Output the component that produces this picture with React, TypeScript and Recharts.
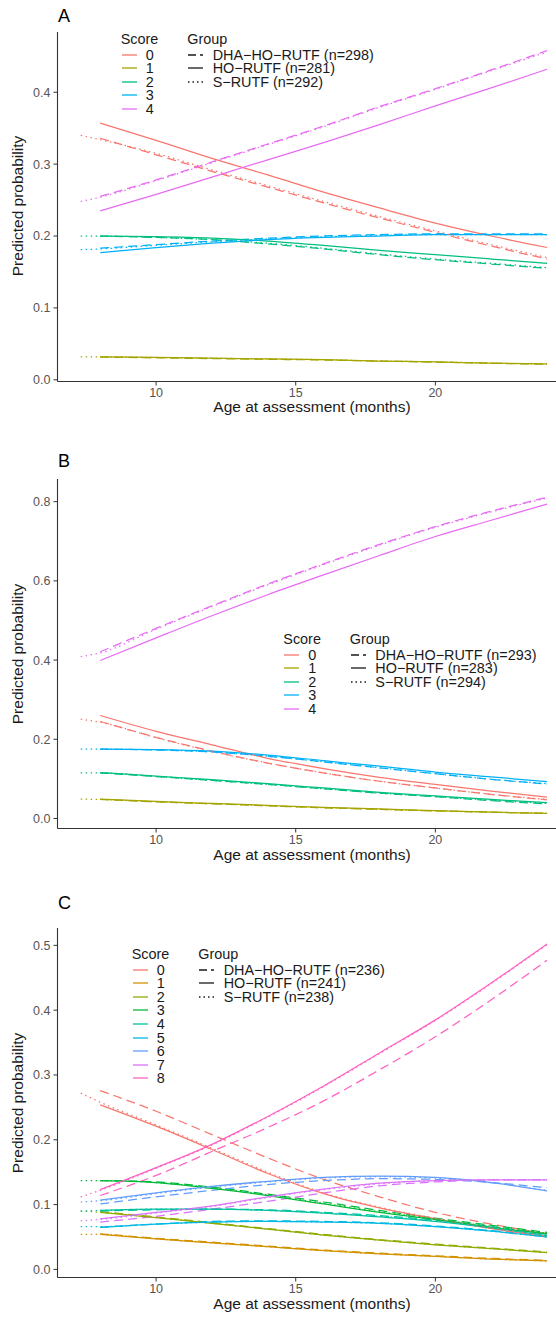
import { LineChart, Line, XAxis, YAxis } from "recharts"

// age grid (months). HO-RUTF and DHA-HO-RUTF curves start at 8, S-RUTF at 7.3
const ages = [7.3, 8, 10, 12, 14, 16, 18, 20, 22, 24]
const xTicks = [10, 15, 20]

const colors5 = ["#F8766D", "#A3A500", "#00BF7D", "#00B0F6", "#E76BF3"]
const colors9 = [
  "#F8766D", "#D39200", "#93AA00", "#00BA38", "#00C19F",
  "#00B9E3", "#619CFF", "#DB72FB", "#FF61C3",
]

// ---- panel A (rows = score 0..4) ----
const aGroupN = [298, 281, 292]
const aDha = [
  [0.336, 0.313, 0.29, 0.268, 0.246, 0.225, 0.205, 0.186, 0.168],
  [0.0315, 0.0305, 0.0295, 0.0285, 0.0275, 0.026, 0.0245, 0.023, 0.0215],
  [0.2, 0.198, 0.195, 0.189, 0.182, 0.174, 0.167, 0.161, 0.155],
  [0.183, 0.188, 0.193, 0.197, 0.2, 0.202, 0.203, 0.203, 0.203],
  [0.255, 0.278, 0.303, 0.328, 0.353, 0.38, 0.405, 0.431, 0.458],
]
const aHo = [
  [0.357, 0.333, 0.308, 0.285, 0.261, 0.239, 0.218, 0.2, 0.184],
  [0.032, 0.031, 0.03, 0.029, 0.028, 0.026, 0.025, 0.023, 0.022],
  [0.2, 0.199, 0.197, 0.193, 0.187, 0.18, 0.174, 0.168, 0.162],
  [0.177, 0.184, 0.19, 0.195, 0.198, 0.2, 0.202, 0.202, 0.202],
  [0.235, 0.258, 0.282, 0.306, 0.33, 0.355, 0.381, 0.406, 0.432],
]
const aS = [
  [0.34, 0.334, 0.315, 0.292, 0.27, 0.248, 0.227, 0.207, 0.188, 0.17],
  [0.032, 0.032, 0.031, 0.03, 0.029, 0.028, 0.026, 0.025, 0.023, 0.022],
  [0.2, 0.2, 0.198, 0.195, 0.19, 0.183, 0.175, 0.168, 0.162, 0.156],
  [0.181, 0.182, 0.187, 0.192, 0.196, 0.199, 0.201, 0.202, 0.202, 0.202],
  [0.248, 0.254, 0.277, 0.302, 0.327, 0.352, 0.379, 0.404, 0.43, 0.456],
]

// ---- panel B ----
const bGroupN = [293, 283, 294]
const bDha = [
  [0.245, 0.205, 0.17, 0.14, 0.115, 0.094, 0.077, 0.061, 0.047],
  [0.048, 0.042, 0.037, 0.032, 0.027, 0.023, 0.019, 0.016, 0.013],
  [0.115, 0.106, 0.096, 0.086, 0.075, 0.064, 0.055, 0.045, 0.037],
  [0.175, 0.173, 0.168, 0.157, 0.143, 0.128, 0.113, 0.099, 0.087],
  [0.421, 0.48, 0.537, 0.592, 0.643, 0.692, 0.737, 0.776, 0.811],
]
const bHo = [
  [0.26, 0.22, 0.186, 0.152, 0.126, 0.104, 0.086, 0.069, 0.054],
  [0.049, 0.043, 0.038, 0.033, 0.028, 0.024, 0.02, 0.016, 0.013],
  [0.116, 0.107, 0.098, 0.088, 0.077, 0.066, 0.057, 0.048, 0.04],
  [0.175, 0.174, 0.17, 0.16, 0.146, 0.132, 0.117, 0.105, 0.093],
  [0.399, 0.456, 0.512, 0.565, 0.615, 0.664, 0.712, 0.753, 0.794],
]
const bS = [
  [0.251, 0.243, 0.204, 0.169, 0.14, 0.115, 0.094, 0.077, 0.061, 0.048],
  [0.049, 0.048, 0.042, 0.037, 0.032, 0.027, 0.023, 0.019, 0.016, 0.013],
  [0.115, 0.115, 0.106, 0.096, 0.086, 0.075, 0.064, 0.055, 0.046, 0.038],
  [0.175, 0.175, 0.173, 0.168, 0.157, 0.143, 0.128, 0.113, 0.099, 0.088],
  [0.409, 0.418, 0.478, 0.535, 0.59, 0.641, 0.69, 0.735, 0.774, 0.809],
]

// ---- panel C (rows = score 0..8) ----
const cGroupN = [236, 241, 238]
const cDha = [
  [0.276, 0.244, 0.208, 0.172, 0.139, 0.112, 0.088, 0.07, 0.055],
  [0.055, 0.048, 0.042, 0.036, 0.03, 0.025, 0.021, 0.017, 0.014],
  [0.089, 0.081, 0.072, 0.063, 0.054, 0.046, 0.039, 0.033, 0.027],
  [0.137, 0.135, 0.127, 0.116, 0.104, 0.091, 0.079, 0.068, 0.057],
  [0.09, 0.092, 0.093, 0.092, 0.088, 0.083, 0.076, 0.066, 0.054],
  [0.065, 0.07, 0.074, 0.075, 0.074, 0.072, 0.067, 0.06, 0.051],
  [0.101, 0.112, 0.122, 0.131, 0.137, 0.14, 0.139, 0.134, 0.126],
  [0.073, 0.082, 0.093, 0.105, 0.118, 0.129, 0.135, 0.138, 0.138],
  [0.114, 0.145, 0.182, 0.219, 0.26, 0.308, 0.359, 0.416, 0.477],
]
const cHo = [
  [0.254, 0.221, 0.185, 0.148, 0.117, 0.095, 0.078, 0.063, 0.05],
  [0.054, 0.047, 0.041, 0.035, 0.029, 0.024, 0.02, 0.016, 0.013],
  [0.088, 0.08, 0.071, 0.062, 0.053, 0.045, 0.038, 0.032, 0.026],
  [0.137, 0.134, 0.125, 0.114, 0.101, 0.088, 0.077, 0.065, 0.055],
  [0.091, 0.093, 0.093, 0.091, 0.087, 0.081, 0.074, 0.064, 0.052],
  [0.065, 0.07, 0.073, 0.074, 0.073, 0.071, 0.066, 0.059, 0.05],
  [0.107, 0.118, 0.128, 0.136, 0.142, 0.144, 0.142, 0.134, 0.121],
  [0.078, 0.088, 0.098, 0.112, 0.124, 0.133, 0.137, 0.138, 0.138],
  [0.123, 0.157, 0.193, 0.236, 0.283, 0.334, 0.385, 0.442, 0.502],
]
const cS = [
  [0.272, 0.258, 0.223, 0.187, 0.15, 0.118, 0.096, 0.079, 0.064, 0.051],
  [0.054, 0.054, 0.047, 0.041, 0.035, 0.029, 0.024, 0.02, 0.016, 0.013],
  [0.09, 0.088, 0.08, 0.071, 0.062, 0.053, 0.045, 0.038, 0.032, 0.026],
  [0.137, 0.137, 0.134, 0.126, 0.115, 0.102, 0.089, 0.078, 0.066, 0.056],
  [0.09, 0.091, 0.093, 0.093, 0.091, 0.087, 0.082, 0.075, 0.065, 0.053],
  [0.066, 0.066, 0.07, 0.073, 0.074, 0.073, 0.071, 0.066, 0.059, 0.05],
  [0.104, 0.106, 0.117, 0.127, 0.135, 0.141, 0.143, 0.141, 0.134, 0.122],
  [0.075, 0.077, 0.087, 0.097, 0.111, 0.123, 0.132, 0.137, 0.138, 0.138],
  [0.112, 0.122, 0.156, 0.192, 0.235, 0.282, 0.333, 0.384, 0.441, 0.501],
]

const FONT = "'Liberation Sans', Arial, Helvetica, sans-serif"
const PLOT_LEFT = 57.5
const PLOT_H = 349.5
const X_DOMAIN = [6.47, 24.32]

const groups = [
  { key: "dha", name: "DHA−HO−RUTF", dash: "9 5", keyDash: "8 4" },
  { key: "ho", name: "HO−RUTF", dash: undefined, keyDash: undefined },
  { key: "s", name: "S−RUTF", dash: "1.5 3.5", keyDash: "1.5 3" },
]

function buildRows(dha: number[][], ho: number[][], s: number[][]) {
  return ages.map((age, i) => {
    const row: Record<string, number | null> = { age }
    dha.forEach((vals, k) => {
      row[`dha${k}`] = i === 0 ? null : vals[i - 1]
      row[`ho${k}`] = i === 0 ? null : ho[k][i - 1]
      row[`s${k}`] = s[k][i]
    })
    return row
  })
}

type PanelProps = {
  letter: string
  letterY: number
  plotTop: number
  domain: number[]
  yTicks: number[]
  colors: string[]
  dha: number[][]
  ho: number[][]
  s: number[][]
  groupN: number[]
  legendX: number
  legendY: number
}

function Legend({ x, y, colors, groupN }: { x: number; y: number; colors: string[]; groupN: number[] }) {
  const step = 13.6
  const first = 15.5
  const text = { position: "absolute" as const, fontSize: 14.4, lineHeight: "14px", color: "#1a1a1a", whiteSpace: "nowrap" as const }
  return (
    <>
      <div style={{ ...text, left: x, top: y - 7 }}>Score</div>
      {colors.map((c, i) => (
        <div key={c}>
          <svg style={{ position: "absolute", left: x + 1, top: y + first + i * step - 2 }} width={15} height={4}>
            <line x1={0} y1={2} x2={15} y2={2} stroke={c} strokeWidth={1.3} />
          </svg>
          <div style={{ ...text, left: x + 25, top: y + first + i * step - 7 }}>{i}</div>
        </div>
      ))}
      <div style={{ ...text, left: x + 66.5, top: y - 7 }}>Group</div>
      {groups.map((g, i) => (
        <div key={g.key}>
          <svg style={{ position: "absolute", left: x + 67.5, top: y + first + i * step - 2 }} width={15} height={4}>
            <line x1={0} y1={2} x2={15} y2={2} stroke="#1a1a1a" strokeWidth={1.3} strokeDasharray={g.keyDash} />
          </svg>
          <div style={{ ...text, left: x + 92, top: y + first + i * step - 7 }}>
            {g.name} (n={groupN[i]})
          </div>
        </div>
      ))}
    </>
  )
}

function Panel(p: PanelProps) {
  const rows = buildRows(p.dha, p.ho, p.s)
  const pad = 12
  const chartTop = p.plotTop - pad
  const plotBottom = p.plotTop + PLOT_H
  return (
    <>
      <div style={{ position: "absolute", left: 58, top: p.letterY - 9, fontSize: 18, lineHeight: "18px", color: "#000" }}>
        {p.letter}
      </div>
      <div style={{ position: "absolute", left: 0, top: chartTop }}>
        <LineChart
          width={556}
          height={pad + PLOT_H + 34}
          data={rows}
          margin={{ top: pad, right: 0, bottom: 0, left: 0 }}
        >
          <XAxis
            dataKey="age"
            type="number"
            domain={X_DOMAIN}
            allowDataOverflow
            ticks={xTicks}
            height={34}
            tickSize={4}
            tickMargin={3}
            stroke="#333"
            tick={{ fill: "#555", fontSize: 12.5, fontFamily: FONT }}
            axisLine={{ stroke: "#333", strokeWidth: 1.1 }}
            tickLine={{ stroke: "#333" }}
          />
          <YAxis
            type="number"
            domain={p.domain}
            allowDataOverflow
            ticks={p.yTicks}
            width={PLOT_LEFT}
            tickSize={4}
            tickMargin={3}
            tickFormatter={v => Number(v).toFixed(1)}
            tick={{ fill: "#555", fontSize: 12.5, fontFamily: FONT }}
            axisLine={{ stroke: "#333", strokeWidth: 1.1 }}
            tickLine={{ stroke: "#333" }}
          />
          {groups.map(g =>
            p.colors.map((c, k) => (
              <Line
                key={`${g.key}${k}`}
                type="monotone"
                dataKey={`${g.key}${k}`}
                stroke={c}
                strokeWidth={1.25}
                strokeDasharray={g.dash}
                dot={false}
                activeDot={false}
                isAnimationActive={false}
              />
            ))
          )}
        </LineChart>
      </div>
      <div
        style={{
          position: "absolute",
          left: 18 - 100,
          top: p.plotTop + PLOT_H / 2 - 8,
          width: 200,
          textAlign: "center",
          fontSize: 15.5,
          lineHeight: "16px",
          color: "#1a1a1a",
          transform: "rotate(-90deg)",
        }}
      >
        Predicted probability
      </div>
      <div
        style={{
          position: "absolute",
          left: 312 - 150,
          top: plotBottom + 26 - 8,
          width: 300,
          textAlign: "center",
          fontSize: 15.5,
          lineHeight: "16px",
          color: "#1a1a1a",
        }}
      >
        Age at assessment (months)
      </div>
      <Legend x={p.legendX} y={p.legendY} colors={p.colors} groupN={p.groupN} />
    </>
  )
}

export default function App() {
  return (
    <div
      style={{
        position: "absolute",
        left: 0,
        top: 0,
        width: 556,
        height: 1318,
        overflow: "hidden",
        background: "#fff",
        fontFamily: FONT,
      }}
    >
      <Panel
        letter="A"
        letterY={16}
        plotTop={31.7}
        domain={[-0.0024, 0.4838]}
        yTicks={[0, 0.1, 0.2, 0.3, 0.4]}
        colors={colors5}
        dha={aDha}
        ho={aHo}
        s={aS}
        groupN={aGroupN}
        legendX={120.7}
        legendY={39}
      />
      <Panel
        letter="B"
        letterY={461}
        plotTop={479}
        domain={[-0.0253, 0.8572]}
        yTicks={[0, 0.2, 0.4, 0.6, 0.8]}
        colors={colors5}
        dha={bDha}
        ho={bHo}
        s={bS}
        groupN={bGroupN}
        legendX={283.3}
        legendY={639}
      />
      <Panel
        letter="C"
        letterY={903}
        plotTop={928}
        domain={[-0.0125, 0.5268]}
        yTicks={[0, 0.1, 0.2, 0.3, 0.4, 0.5]}
        colors={colors9}
        dha={cDha}
        ho={cHo}
        s={cS}
        groupN={cGroupN}
        legendX={131.7}
        legendY={954}
      />
    </div>
  )
}
